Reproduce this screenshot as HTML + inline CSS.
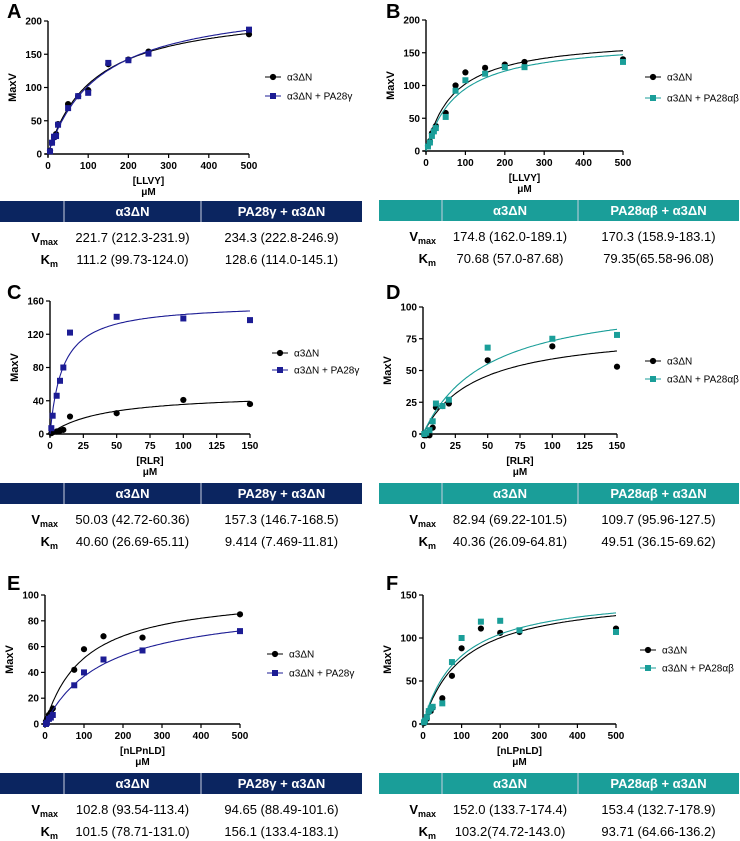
<!DOCTYPE html>
<html><head><meta charset="utf-8">
<style>
body{margin:0;background:#fff;width:740px;height:841px;overflow:hidden;font-family:"Liberation Sans",Arial,sans-serif}
svg{position:absolute;left:0;top:0}
</style></head>
<body>
<svg id="fig" width="740" height="841" viewBox="0 0 740 841"></svg>
<script>
// ---- data arrays ----
const aX=[5,10,15,20,25,50,75,100,150,200,250,500];
const aBlack=[5,17,25,30,45,75,87,96,135,142,154,180];
const aBlue=[4,17,26,27,44,69,87,92,137,141,151,187];
const aKin=[221.7,111.2,234.3,128.6];
const bX=[5,10,15,20,25,50,75,100,150,200,250,500];
const bBlack=[8,15,27,32,38,58,100,120,127,132,136,140];
const bTeal=[7,13,23,30,35,52,92,108,118,128,128,136];
const bKin=[174.8,70.68,170.3,79.35];
const cX=[1,2,5,7.5,10,15,50,100,150];
const cBlack=[1,2,3,4,5,21,25,41,36];
const cBlue=[7,22,46,64,80,122,141,139,137];
const cKin=[50.03,40.60,157.3,9.414];
const dX=[1,2.5,5,7.5,10,15,20,50,100,150];
const dBlack=[-1,-1,-1,5,21,22,24,58,69,53];
const dTeal=[0,1,3,10,24,22,27,68,75,78];
const dKin=[82.94,40.36,109.7,49.51];
const eX=[2.5,5,10,15,20,75,100,150,250,500];
const eBlack=[2,4,7,9,12,42,58,68,67,85];
const eBlue=[0,1,4,5,7,30,40,50,57,72];
const eKin=[102.8,101.5,94.65,156.1];
const fX=[2.5,5,10,15,20,25,50,75,100,150,200,250,500];
const fBlack=[1,3,6,14,15,19,30,56,88,111,106,107,111];
const fTeal=[2,4,8,15,18,20,24,72,100,119,120,109,107];
const fKin=[152.0,103.2,153.4,93.71];
const ticksLLVY=[0,100,200,300,400,500];
const ticksRLR=[0,25,50,75,100,125,150];

const NS="http://www.w3.org/2000/svg";
const svg=document.getElementById('fig');
function el(tag,attrs,parent,text){const e=document.createElementNS(NS,tag);for(const k in attrs)e.setAttribute(k,attrs[k]);if(text!==undefined)e.textContent=text;(parent||svg).appendChild(e);return e;}
const NAVY='#0b2560',BLUE='#1c1c94',TEAL='#1a9e99';

function panel(p){
  const g=el('g',{});
  
  
  const sx=v=>p.x0+(v/p.xmax)*(p.x1-p.x0);
  const sy=v=>p.yb-(v/p.ymax)*(p.yb-p.yt);
  const lab=el('text',{x:p.lx,y:p.ly,'font-size':20,'font-weight':'bold'},g,p.id);
  
  el('line',{x1:p.x0,y1:p.yt,x2:p.x0,y2:p.yb+3,stroke:'#000','stroke-width':1.4},g);
  el('line',{x1:p.x0-3,y1:p.yb,x2:p.x1,y2:p.yb,stroke:'#000','stroke-width':1.4},g);
  p.yticks.forEach(v=>{
    el('line',{x1:p.x0-4,y1:sy(v),x2:p.x0,y2:sy(v),stroke:'#000','stroke-width':1.2},g);
    const t=el('text',{x:p.x0-6,y:sy(v)+3.5,'font-size':10,'font-weight':'bold','text-anchor':'end'},g,v);
    
  });
  p.xticks.forEach(v=>{
    el('line',{x1:sx(v),y1:p.yb,x2:sx(v),y2:p.yb+4,stroke:'#000','stroke-width':1.2},g);
    const t=el('text',{x:sx(v),y:p.yb+15,'font-size':10,'font-weight':'bold','text-anchor':'middle'},g,v);
    
  });
  const yt=el('text',{x:0,y:0,'font-size':11,'font-weight':'bold','text-anchor':'middle',transform:`translate(${p.x0-32},${(p.yt+p.yb)/2}) rotate(-90)`},g,'MaxV');
  
  const cx=(p.x0+p.x1)/2;
  const xt=el('text',{x:cx,y:p.yb+30,'font-size':10,'font-weight':'bold','text-anchor':'middle'},g,p.xlabel);
  
  const xu=el('text',{x:cx,y:p.yb+41,'font-size':10,'font-weight':'bold','text-anchor':'middle'},g,'μM');
  
  const series=[{ys:p.y1,col:'#000',sq:false,vm:p.kin[0],km:p.kin[1]},{ys:p.y2,col:p.col,sq:true,vm:p.kin[2],km:p.kin[3]}];
  series.forEach((s,si)=>{
    let d='';
    for(let i=0;i<=120;i++){const x=p.xmax*i/120;const y=s.vm*x/(s.km+x);d+=(i?'L':'M')+sx(x).toFixed(1)+','+sy(y).toFixed(1);}
    const c=el('path',{d:d,fill:'none',stroke:s.col,'stroke-width':1.1},g);
    
    p.xs.forEach((x,i)=>{
      const X=sx(x),Y=sy(s.ys[i]);
      let m;
      if(s.sq)m=el('rect',{x:X-3,y:Y-3,width:6,height:6,fill:s.col},g);
      else m=el('circle',{cx:X,cy:Y,r:3.1,fill:s.col},g);
      
      
    });
  });
  const names=['α3ΔN',p.leg2];const cols=['#000',p.col];
  names.forEach((n,i)=>{
    const y=p.legy[i];
    el('line',{x1:p.legx-8,y1:y,x2:p.legx+8,y2:y,stroke:cols[i],'stroke-width':1},g);
    if(i)el('rect',{x:p.legx-3,y:y-3,width:6,height:6,fill:cols[i]},g);
    else el('circle',{cx:p.legx,cy:y,r:3.1,fill:cols[i]},g);
    const t=el('text',{x:p.legx+14,y:y+3.5,'font-size':10},g,n);
    
  });
  const tb=el('g',{},g);
  el('rect',{x:p.tx[0],y:p.ty,width:p.tx[3]-p.tx[0],height:21,fill:p.hcol},tb);
  el('line',{x1:p.tx[1],y1:p.ty,x2:p.tx[1],y2:p.ty+21,stroke:'#c8d0e0','stroke-width':1},tb);
  el('line',{x1:p.tx[2],y1:p.ty,x2:p.tx[2],y2:p.ty+21,stroke:'#c8d0e0','stroke-width':1},tb);
  const c1=(p.tx[1]+p.tx[2])/2,c2=(p.tx[2]+p.tx[3])/2;
  el('text',{x:c1,y:p.ty+15,'font-size':13,'font-weight':'bold',fill:'#fff','text-anchor':'middle'},tb,'α3ΔN');
  el('text',{x:c2,y:p.ty+15,'font-size':13,'font-weight':'bold',fill:'#fff','text-anchor':'middle','xml:space':'preserve'},tb,p.h2);
  const rows=[['V','max',p.v1,p.v2],['K','m',p.k1,p.k2]];
  rows.forEach((r,i)=>{
    const y=p.ty+41+i*22;
    const t=el('text',{x:p.tx[1]-6,y:y,'font-size':13,'font-weight':'bold','text-anchor':'end'},tb);
    el('tspan',{},t,r[0]);el('tspan',{'font-size':9,dy:3},t,r[1]);
    el('text',{x:c1,y:y,'font-size':13,'text-anchor':'middle'},tb,r[2]);
    el('text',{x:c2,y:y,'font-size':13,'text-anchor':'middle'},tb,r[3]);
  });
}
const Lg='α3ΔN + PA28γ',Lab='α3ΔN + PA28αβ';
panel({id:'A',lx:7,ly:18,x0:48,x1:249,xmax:500,yt:21,yb:154,ymax:200,yticks:[0,50,100,150,200],xticks:ticksLLVY,xlabel:'[LLVY]',xs:aX,y1:aBlack,y2:aBlue,kin:aKin,col:BLUE,leg2:Lg,legx:273,legy:[77,96],tx:[0,64,201,362],ty:201,hcol:NAVY,h2:'PA28γ + α3ΔN',v1:'221.7 (212.3-231.9)',v2:'234.3 (222.8-246.9)',k1:'111.2 (99.73-124.0)',k2:'128.6 (114.0-145.1)'});
panel({id:'B',lx:386,ly:18,x0:426,x1:623,xmax:500,yt:20,yb:151,ymax:200,yticks:[0,50,100,150,200],xticks:ticksLLVY,xlabel:'[LLVY]',xs:bX,y1:bBlack,y2:bTeal,kin:bKin,col:TEAL,leg2:Lab,legx:653,legy:[77,98],tx:[379,442,578,739],ty:200,hcol:TEAL,h2:'PA28αβ  + α3ΔN',v1:'174.8 (162.0-189.1)',v2:'170.3 (158.9-183.1)',k1:'70.68 (57.0-87.68)',k2:'79.35(65.58-96.08)'});
panel({id:'C',lx:7,ly:299,x0:50,x1:250,xmax:150,yt:301,yb:434,ymax:160,yticks:[0,40,80,120,160],xticks:ticksRLR,xlabel:'[RLR]',xs:cX,y1:cBlack,y2:cBlue,kin:cKin,col:BLUE,leg2:Lg,legx:280,legy:[353,370],tx:[0,64,201,362],ty:483,hcol:NAVY,h2:'PA28γ + α3ΔN',v1:'50.03 (42.72-60.36)',v2:'157.3 (146.7-168.5)',k1:'40.60 (26.69-65.11)',k2:'9.414 (7.469-11.81)'});
panel({id:'D',lx:386,ly:299,x0:423,x1:617,xmax:150,yt:307,yb:434,ymax:100,yticks:[0,25,50,75,100],xticks:ticksRLR,xlabel:'[RLR]',xs:dX,y1:dBlack,y2:dTeal,kin:dKin,col:TEAL,leg2:Lab,legx:653,legy:[361,379],tx:[379,442,578,739],ty:483,hcol:TEAL,h2:'PA28αβ  + α3ΔN',v1:'82.94 (69.22-101.5)',v2:'109.7 (95.96-127.5)',k1:'40.36 (26.09-64.81)',k2:'49.51 (36.15-69.62)'});
panel({id:'E',lx:7,ly:590,x0:45,x1:240,xmax:500,yt:595,yb:724,ymax:100,yticks:[0,20,40,60,80,100],xticks:ticksLLVY,xlabel:'[nLPnLD]',xs:eX,y1:eBlack,y2:eBlue,kin:eKin,col:BLUE,leg2:Lg,legx:275,legy:[654,673],tx:[0,64,201,362],ty:773,hcol:NAVY,h2:'PA28γ + α3ΔN',v1:'102.8 (93.54-113.4)',v2:'94.65 (88.49-101.6)',k1:'101.5 (78.71-131.0)',k2:'156.1 (133.4-183.1)'});
panel({id:'F',lx:386,ly:590,x0:423,x1:616,xmax:500,yt:595,yb:724,ymax:150,yticks:[0,50,100,150],xticks:ticksLLVY,xlabel:'[nLPnLD]',xs:fX,y1:fBlack,y2:fTeal,kin:fKin,col:TEAL,leg2:Lab,legx:648,legy:[650,668],tx:[379,442,578,739],ty:773,hcol:TEAL,h2:'PA28αβ  + α3ΔN',v1:'152.0 (133.7-174.4)',v2:'153.4 (132.7-178.9)',k1:'103.2(74.72-143.0)',k2:'93.71 (64.66-136.2)'});
</script>
</body></html>
